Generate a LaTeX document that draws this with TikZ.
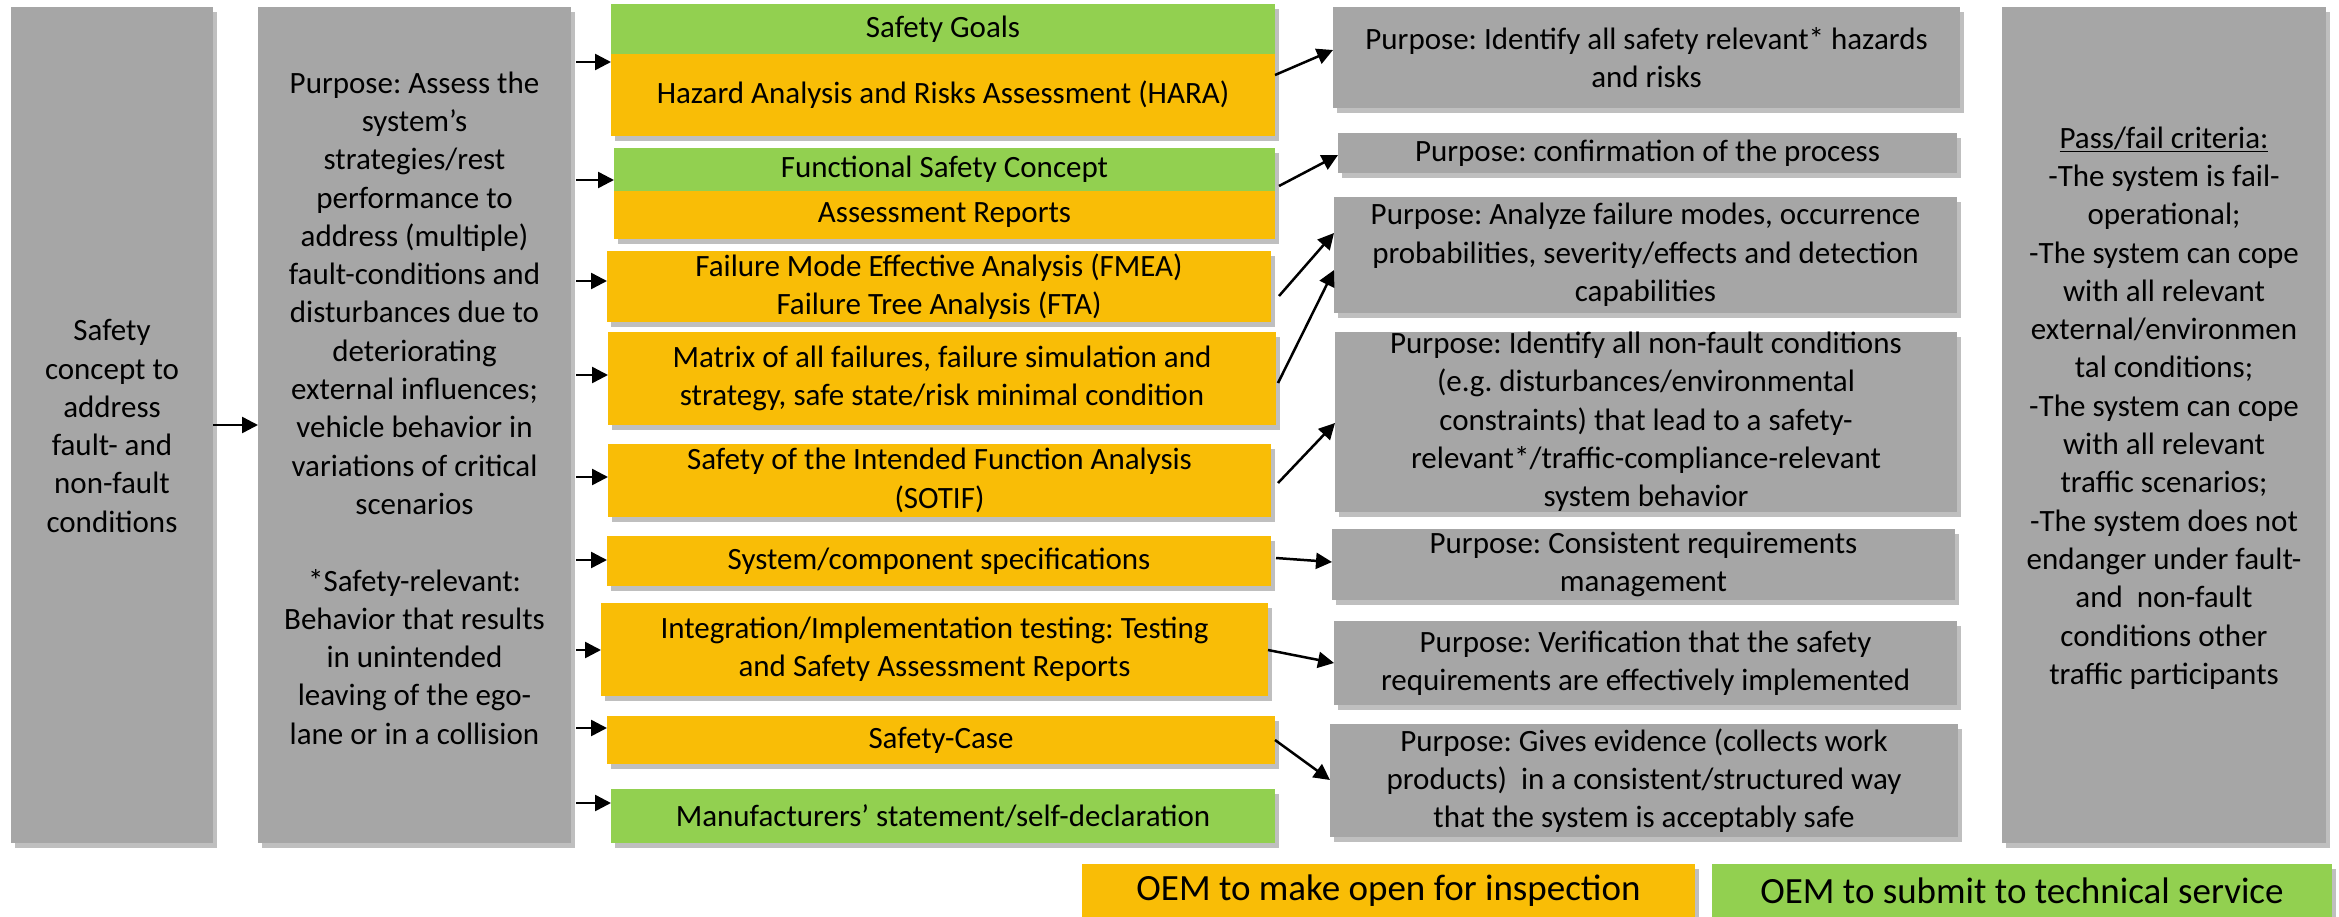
\documentclass[tikz,border=0pt]{standalone}
\usepackage{fontspec}
\setmainfont{Carlito}
\usetikzlibrary{arrows.meta,shadows}
\definecolor{boxgray}{HTML}{A6A6A6}
\definecolor{boxorange}{HTML}{F9BD06}
\definecolor{boxgreen}{HTML}{92D050}
\frenchspacing
\tikzset{
  basebox/.style={rectangle, inner sep=0pt, outer sep=0pt, align=center, text=black,
    font=\fontsize{31}{38.3}\selectfont,
    drop shadow={shadow xshift=4pt, shadow yshift=-5pt, fill=black, opacity=0.25}},
  gbox/.style={basebox, fill=boxgray},
  obox/.style={basebox, fill=boxorange},
  lbox/.style={basebox, fill=boxgreen},
  txt/.style={inner sep=0pt, align=center, text=black, font=\fontsize{31}{38.3}\selectfont},
  legfont/.style={font=\fontsize{37}{44}\selectfont},
  arr/.style={line width=2.5pt, -{Triangle[length=16pt,width=16pt]}},
}
\begin{document}
\begin{tikzpicture}[x=1pt,y=-1pt]
\useasboundingbox (0,0) rectangle (2339,916);
\fill[white] (0,0) rectangle (2339,916);

% left columns
\node[gbox, minimum width=202pt, minimum height=836pt] (b1) at (112,425) {};
\node[txt] (b1t) at (112,426) {Safety\\concept to\\address\\fault- and\\non-fault\\conditions};
\node[gbox, minimum width=313pt, minimum height=836pt] (b2) at (414.5,425) {};
\node[txt] (b2t) at (414.5,408) {Purpose: Assess the\\system’s\\strategies/rest\\performance to\\address (multiple)\\fault-conditions and\\disturbances due to\\deteriorating\\external influences;\\vehicle behavior in\\variations of critical\\scenarios\\[38.3pt]*Safety-relevant:\\Behavior that results\\in unintended\\leaving of the ego-\\lane or in a collision};

% middle column
\node[lbox, minimum width=664pt, minimum height=50pt] (sg) at (943,29) {Safety Goals};
\node[obox, minimum width=664pt, minimum height=82pt] (hara) at (943,95) {Hazard Analysis and Risks Assessment (HARA)};
\node[lbox, minimum width=661pt, minimum height=43pt] (fsc) at (944.5,169.5) {Functional Safety Concept};
\node[obox, minimum width=661pt, minimum height=48pt] (ar) at (944.5,215) {Assessment Reports};
\node[obox, minimum width=664pt, minimum height=71pt] (fmea) at (939,286.5) {Failure Mode Effective Analysis (FMEA)\\Failure Tree Analysis (FTA)};
\node[obox, minimum width=668pt, minimum height=93pt] (mat) at (942,378.5) {Matrix of all failures, failure simulation and\\strategy, safe state/risk minimal condition};
\node[obox, minimum width=663pt, minimum height=73pt] (sotif) at (939.5,480.5) {Safety of the Intended Function Analysis\\(SOTIF)};
\node[obox, minimum width=664pt, minimum height=50pt] (sys) at (939,561) {System/component specifications};
\node[obox, minimum width=667pt, minimum height=93pt] (integ) at (934.5,649.5) {Integration/Implementation testing: Testing\\and Safety Assessment Reports};
\node[obox, minimum width=668pt, minimum height=48pt] (sc) at (941,740) {Safety-Case};
\node[lbox, minimum width=664pt, minimum height=54pt] (man) at (943,816) {Manufacturers’ statement/self-declaration};

% purpose column
\node[gbox, minimum width=627pt, minimum height=101pt] (p1) at (1646.5,57.5) {Purpose: Identify all safety relevant* hazards\\and risks};
\node[gbox, minimum width=619pt, minimum height=40pt] (p2) at (1647.5,153) {Purpose: confirmation of the process};
\node[gbox, minimum width=623pt, minimum height=116pt] (p3) at (1645.5,255) {Purpose: Analyze failure modes, occurrence\\probabilities, severity/effects and detection\\capabilities};
\node[gbox, minimum width=622pt, minimum height=174pt] (p4) at (1646,422) {Purpose: Identify all non-fault conditions\\(e.g. disturbances/environmental\\constraints) that lead to a safety-\\relevant*/traffic-compliance-relevant\\system behavior};
\node[gbox, minimum width=623pt, minimum height=71pt] (p5) at (1643.5,564.5) {Purpose: Consistent requirements\\management};
\node[gbox, minimum width=623pt, minimum height=84pt] (p6) at (1645.5,663) {Purpose: Verification that the safety\\requirements are effectively implemented};
\node[gbox, minimum width=628pt, minimum height=113pt] (p7) at (1644,780.5) {Purpose: Gives evidence (collects work\\products)\ \ in a consistent/structured way\\that the system is acceptably safe};

% right column
\node[gbox, minimum width=324pt, minimum height=836pt] (rb) at (2164,425) {};
\node[txt] (rbt) at (2164,408) {\underline{Pass/fail criteria:}\\-The system is fail-\\operational;\\-The system can cope\\with all relevant\\external/environmen\\tal conditions;\\-The system can cope\\with all relevant\\traffic scenarios;\\-The system does not\\endanger under fault-\\and\ \ non-fault\\conditions other\\traffic participants};

% legend
\node[obox, legfont, minimum width=613pt, minimum height=54pt] (lg1) at (1388.5,891) {OEM to make open for inspection};
\node[lbox, legfont, minimum width=620pt, minimum height=54pt] (lg2) at (2022,891) {OEM to submit to technical service};

% arrows
\draw[arr] (b1.east) -- (b2.west);
\coordinate (b2r) at ([xshift=5pt]b2.east);
\draw[arr] (b2r |- 0,62) -- (hara.west |- 0,62);
\draw[arr] (b2r |- 0,180) -- (fsc.west |- 0,180);
\draw[arr] (b2r |- 0,281) -- (fmea.west |- 0,281);
\draw[arr] (b2r |- 0,375) -- (mat.west |- 0,375);
\draw[arr] (b2r |- 0,477) -- (sotif.west |- 0,477);
\draw[arr] (b2r |- 0,560) -- (sys.west |- 0,560);
\draw[arr] (b2r |- 0,650) -- (integ.west |- 0,650);
\draw[arr] (b2r |- 0,728) -- (sc.west |- 0,728);
\draw[arr] (b2r |- 0,803) -- (man.west |- 0,803);

\draw[arr] (hara.east |- 0,75) -- (p1.west |- 0,50);
\draw[arr] ([xshift=4pt]fsc.east |- 0,186) -- (p2.west |- 0,155);
\draw[arr] ([xshift=8pt]fmea.east |- 0,296) -- (p3.west |- 0,233);
\draw[arr] ([xshift=2pt]mat.east |- 0,383) -- (p3.west |- 0,270);
\draw[arr] ([xshift=7pt]sotif.east |- 0,483) -- (p4.west |- 0,423);
\draw[arr] ([xshift=5pt]sys.east |- 0,558) -- (p5.west |- 0,562);
\draw[arr] (integ.east |- 0,650) -- (p6.west |- 0,663);
\draw[arr] (sc.east |- 0,740) -- (p7.west |- 0,780);
\end{tikzpicture}
\end{document}
